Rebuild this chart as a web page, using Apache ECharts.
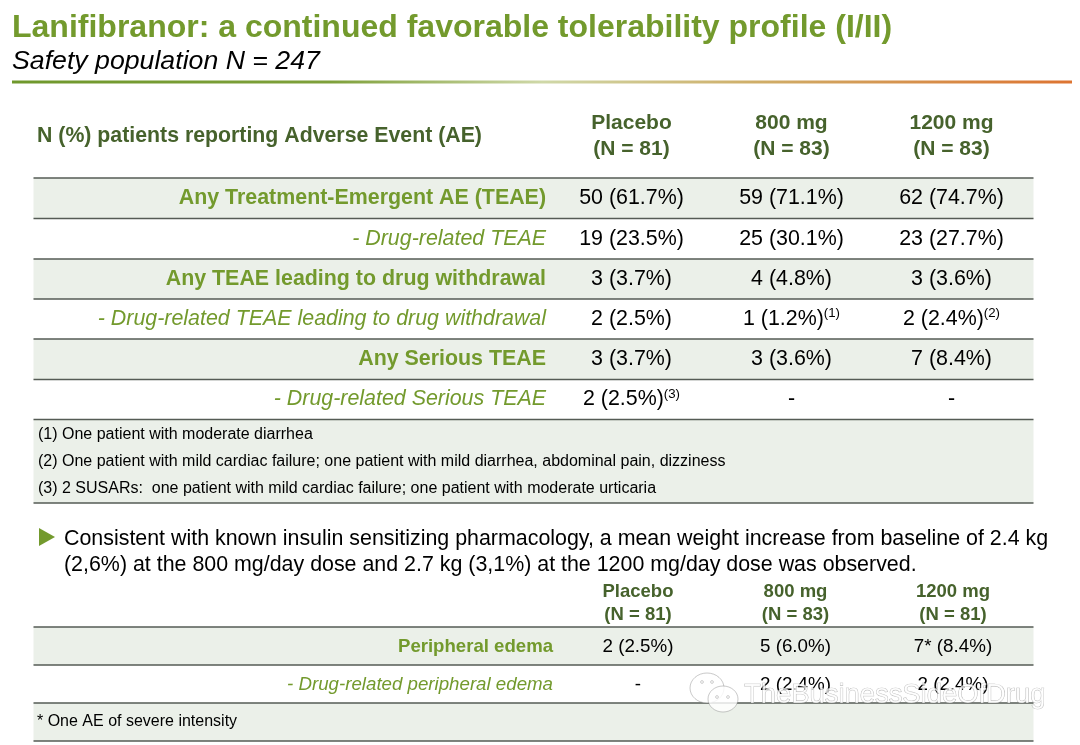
<!DOCTYPE html>
<html><head><meta charset="utf-8">
<style>html,body{margin:0;padding:0;background:#fff}#c{width:1080px;height:745px}</style>
<script src="https://cdn.jsdelivr.net/npm/echarts@6/dist/echarts.min.js"></script>
</head><body><div id="c"></div>
<script>
const titleText = 'Lanifibranor: a continued favorable tolerability profile (I/II)';
const subtitleText = 'Safety population N = 247';
const mainHeader = 'N (%) patients reporting Adverse Event (AE)';
const mainColumns = [['Placebo','(N = 81)'],['800 mg','(N = 83)'],['1200 mg','(N = 83)']];
const mainLabels = ['Any Treatment-Emergent AE (TEAE)','- Drug-related TEAE','Any TEAE leading to drug withdrawal','- Drug-related TEAE leading to drug withdrawal','Any Serious TEAE','- Drug-related Serious TEAE'];
const placeboCells = ['50 (61.7%)','19 (23.5%)','3 (3.7%)','2 (2.5%)','3 (3.7%)','2 (2.5%)^(3)'];
const mg800Cells = ['59 (71.1%)','25 (30.1%)','4 (4.8%)','1 (1.2%)^(1)','3 (3.6%)','-'];
const mg1200Cells = ['62 (74.7%)','23 (27.7%)','3 (3.6%)','2 (2.4%)^(2)','7 (8.4%)','-'];
const footnotes = ['(1) One patient with moderate diarrhea','(2) One patient with mild cardiac failure; one patient with mild diarrhea, abdominal pain, dizziness','(3) 2 SUSARs:  one patient with mild cardiac failure; one patient with moderate urticaria'];
const bulletLines = ['Consistent with known insulin sensitizing pharmacology, a mean weight increase from baseline of 2.4 kg','(2,6%) at the 800 mg/day dose and 2.7 kg (3,1%) at the 1200 mg/day dose was observed.'];
const edemaColumns = [['Placebo','(N = 81)'],['800 mg','(N = 83)'],['1200 mg','(N = 81)']];
const edemaLabels = ['Peripheral edema','- Drug-related peripheral edema'];
const edemaPlacebo = ['2 (2.5%)','-'];
const edema800 = ['5 (6.0%)','2 (2.4%)'];
const edema1200 = ['7* (8.4%)','2 (2.4%)'];
const edemaNote = '* One AE of severe intensity';
const watermark = 'TheBusinessSideOfDrug';

const FONT = '"Liberation Sans", Arial, sans-serif';
const GREEN = '#739a2d', DARK = '#46622c', BAND = '#ebf0e9', RULE = '#555b55';
const els = [];
function text(x, y, s, size, color, o = {}) {
  const parts = s.split('^');
  const style = { x, y, fill: color, fontFamily: FONT, fontSize: size,
    fontWeight: o.bold ? 'bold' : 'normal', fontStyle: o.italic ? 'italic' : 'normal',
    align: o.align || 'left', verticalAlign: 'middle' };
  if (parts.length > 1) {
    style.text = `{a|${parts[0]}}{s|${parts[1]}}`;
    style.rich = {
      a: { fontSize: size, fontFamily: FONT, fill: color, lineHeight: size + 2 },
      s: { fontSize: size * 0.62, fontFamily: FONT, fill: color, verticalAlign: 'top', padding: [0, 0, 7, 0], lineHeight: size + 2 }
    };
  } else style.text = s;
  els.push({ type: 'text', z: o.z || 10, style, silent: true });
}
function band(y0, y1) {
  els.push({ type: 'rect', z: 1, shape: { x: 33.5, y: y0, width: 1000, height: y1 - y0 }, style: { fill: BAND } });
}
function rule(y) {
  els.push({ type: 'line', z: 2, shape: { x1: 33.5, y1: y, x2: 1033.5, y2: y }, style: { stroke: RULE, lineWidth: 1.4 } });
}

// heading
text(12, 28, titleText, 32, GREEN, { bold: true });
text(12, 62, subtitleText, 26.7, '#000', { italic: true });
els.push({ type: 'rect', z: 2, shape: { x: 12, y: 80.5, width: 1060, height: 3 },
  style: { fill: { type: 'linear', x: 0, y: 0, x2: 1, y2: 0, colorStops: [
    { offset: 0, color: '#6f982c' }, { offset: 0.3, color: '#7ea03a' }, { offset: 0.5, color: '#cfd8a8' },
    { offset: 0.7, color: '#cfae68' }, { offset: 1, color: '#dd7431' }] } } });

// main table
const colX = [631.5, 791.5, 951.5];
const mainY = [178, 218.5, 259, 299, 339, 379.5, 419.5];
text(37, 136.5, mainHeader, 21.3, DARK, { bold: true });
mainColumns.forEach((c, i) => {
  text(colX[i], 123, c[0], 21, DARK, { bold: true, align: 'center' });
  text(colX[i], 149, c[1], 21, DARK, { bold: true, align: 'center' });
});
[0, 2, 4].forEach(i => band(mainY[i], mainY[i + 1]));
band(419.5, 503);
[...mainY, 503].forEach(rule);
mainLabels.forEach((l, i) => {
  const cy = (mainY[i] + mainY[i + 1]) / 2;
  const bold = i % 2 === 0;
  text(546, cy, l, 21.4, GREEN, { bold, italic: !bold, align: 'right' });
  [placeboCells, mg800Cells, mg1200Cells].forEach((cells, k) => {
    text(colX[k], cy, cells[i], 21.4, '#000', { align: 'center' });
  });
});
footnotes.forEach((f, i) => text(38, 435 + i * 27, f, 16, '#000'));

// bullet
els.push({ type: 'polygon', z: 5, shape: { points: [[39, 528], [55, 537], [39, 546]] }, style: { fill: GREEN } });
bulletLines.forEach((b, i) => text(64, 539.5 + i * 25.2, b, 21.4, '#000'));

// edema table
const colX2 = [638, 795.5, 953];
const edemaY = [627, 665, 703, 741];
edemaColumns.forEach((c, i) => {
  text(colX2[i], 592, c[0], 18.5, DARK, { bold: true, align: 'center' });
  text(colX2[i], 615, c[1], 18.5, DARK, { bold: true, align: 'center' });
});
band(627, 665); band(703, 741);
edemaY.forEach(rule);
edemaLabels.forEach((l, i) => {
  const cy = (edemaY[i] + edemaY[i + 1]) / 2 + 0.5;
  const bold = i === 0;
  text(553, cy, l, bold ? 18.6 : 18.7, GREEN, { bold, italic: !bold, align: 'right' });
  [edemaPlacebo, edema800, edema1200].forEach((cells, k) => {
    text(colX2[k], cy, cells[i], 18.8, '#000', { align: 'center' });
  });
});
text(37, 722, edemaNote, 16, '#000');

// watermark overlay
const mark = { fill: 'rgba(255,255,255,0.82)', stroke: 'rgba(120,120,120,0.5)', lineWidth: 0.8 };
const dot = { fill: 'rgba(255,255,255,0.9)', stroke: 'rgba(120,120,120,0.6)', lineWidth: 0.6 };
els.push({ type: 'ellipse', z: 20, shape: { cx: 707, cy: 688, rx: 17, ry: 15 }, style: mark });
els.push({ type: 'ellipse', z: 21, shape: { cx: 723, cy: 699, rx: 15, ry: 13 }, style: mark });
[[702, 682], [712, 682], [717, 697], [728, 697]].forEach(p =>
  els.push({ type: 'circle', z: 22, shape: { cx: p[0], cy: p[1], r: 1.4 }, style: dot }));
els.push({ type: 'text', z: 22, silent: true, style: { x: 744, y: 695, text: watermark, fontFamily: FONT, fontSize: 27.4,
  fill: 'rgba(255,255,255,0.75)', stroke: 'rgba(110,110,110,0.55)', lineWidth: 0.7, align: 'left', verticalAlign: 'middle' } });

const chart = echarts.init(document.getElementById('c'), null, { renderer: 'canvas' });
chart.setOption({ animation: false, backgroundColor: '#fff', graphic: { elements: els } });
</script></body></html>
